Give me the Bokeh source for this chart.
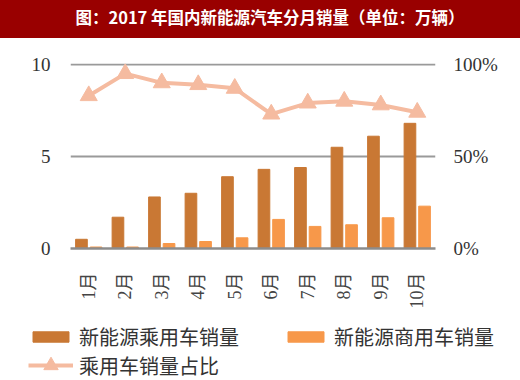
import math
from bokeh.plotting import figure
from bokeh.models import (Range1d, LinearAxis, FixedTicker, PrintfTickFormatter,
                          Legend, LegendItem, Div)
from bokeh.transform import dodge
from bokeh.layouts import column
from bokeh.embed import file_html
from bokeh.resources import INLINE

months = ["1月", "2月", "3月", "4月", "5月", "6月", "7月", "8月", "9月", "10月"]
passenger = [0.5, 1.7, 2.8, 3.0, 3.9, 4.3, 4.4, 5.5, 6.1, 6.8]
commercial = [0.08, 0.08, 0.27, 0.38, 0.58, 1.58, 1.2, 1.29, 1.67, 2.3]
ratio = [83, 95, 90, 89, 87, 73, 79, 80, 78, 74]
left_ticks = [0, 5, 10]
right_ticks = [0, 50, 100]
title_text = "图：2017 年国内新能源汽车分月销量（单位：万辆）"

SERIF = "Liberation Serif, Noto Sans CJK SC"
CJK = "Noto Sans CJK SC"

BAR1 = "#C97834"
BAR2 = "#F7984A"
LINE = "#F5BBA0"

# banner
banner = Div(text=(
    '<div style="width:520px;height:38px;background:#990000;color:#ffffff;'
    "font-family:'Noto Sans CJK SC';font-weight:bold;font-size:16.5px;"
    'display:flex;align-items:center;justify-content:center;'
    'padding-left:20px;padding-bottom:3px;box-sizing:border-box;">'
    + title_text + '</div>'),
    width=520, height=38, margin=0)

src = dict(month=months, passenger=passenger, commercial=commercial, ratio=ratio)

# main chart
p = figure(width=520, height=280, x_range=months, y_range=Range1d(0, 10.05),
           output_backend="svg", toolbar_location=None,
           min_border_left=70, min_border_right=85, min_border_top=25,
           min_border_bottom=70, outline_line_color=None,
           background_fill_color="white", border_fill_color="white")
p.extra_y_ranges = {"pct": Range1d(0, 100.5)}


def draw(fig):
    a = fig.vbar(x=dodge("month", -0.2, range=fig.x_range), top="passenger",
                 width=0.32, source=src, fill_color=BAR1, line_color=BAR1)
    b_ = fig.vbar(x=dodge("month", 0.2, range=fig.x_range), top="commercial",
                  width=0.32, source=src, fill_color=BAR2, line_color=BAR2)
    c = fig.line(x="month", y="ratio", source=src, y_range_name="pct",
                 line_color=LINE, line_width=4)
    d = fig.scatter(x="month", y="ratio", source=src, y_range_name="pct",
                    marker="triangle", size=17, fill_color=LINE, line_color=LINE)
    return a, b_, c, d


draw(p)

p.xgrid.visible = False
p.ygrid.ticker = FixedTicker(ticks=left_ticks)
p.ygrid.grid_line_color = "#9a9a9a"
p.ygrid.grid_line_width = 2

ya = p.yaxis[0]
ya.ticker = FixedTicker(ticks=left_ticks)
ya.axis_line_color = None
ya.major_tick_line_color = None
ya.minor_tick_line_color = None
ya.major_label_standoff = 14
ya.major_label_text_font = SERIF
ya.major_label_text_font_size = "19px"
ya.major_label_text_color = "#333333"

ra = LinearAxis(y_range_name="pct", ticker=FixedTicker(ticks=right_ticks),
                formatter=PrintfTickFormatter(format="%d%%"))
ra.axis_line_color = None
ra.major_tick_line_color = None
ra.minor_tick_line_color = None
ra.major_label_standoff = 12
ra.major_label_text_font = SERIF
ra.major_label_text_font_size = "19px"
ra.major_label_text_color = "#333333"
p.add_layout(ra, "right")

xa = p.xaxis[0]
xa.axis_line_color = "#8c8c8c"
xa.axis_line_width = 2.5
xa.major_tick_line_color = None
xa.minor_tick_line_color = None
xa.major_label_orientation = math.pi / 2
xa.major_label_standoff = 18
xa.major_label_text_font = SERIF
xa.major_label_text_font_size = "18px"
xa.major_label_text_color = "#444444"

# legend strip: same series drawn out of view, legend placed in its frame
lf = figure(width=520, height=62, x_range=p.x_range, y_range=Range1d(1000, 1001),
            output_backend="svg", toolbar_location=None, min_border=0,
            outline_line_color=None, background_fill_color="white",
            border_fill_color="white")
lf.extra_y_ranges = {"pct": Range1d(1000, 1001)}
lf.axis.visible = False
lf.grid.visible = False
try:
    lf.frame_align = False
except AttributeError:
    pass
l1, l2, l3, l4 = draw(lf)


def style_legend(lg, gh):
    lg.label_text_font = CJK
    lg.label_text_font_size = "20px"
    lg.label_text_color = "#333333"
    lg.glyph_width = 45
    lg.glyph_height = gh
    lg.label_standoff = 6
    lg.padding = 0
    lg.margin = 0
    lg.border_line_color = None
    lg.background_fill_alpha = 0


lg1 = Legend(items=[LegendItem(label="新能源乘用车销量", renderers=[l1]),
                    LegendItem(label="新能源商用车销量", renderers=[l2])],
             orientation="horizontal", location=(28, 29), spacing=44)
lg2 = Legend(items=[LegendItem(label="乘用车销量占比", renderers=[l3, l4])],
             orientation="horizontal", location=(28, -3))
style_legend(lg1, 13)
style_legend(lg2, 36)
lf.add_layout(lg1, "center")
lf.add_layout(lg2, "center")

layout = column(banner, p, lf, spacing=0)
open("out.html", "w").write(file_html(layout, INLINE))
